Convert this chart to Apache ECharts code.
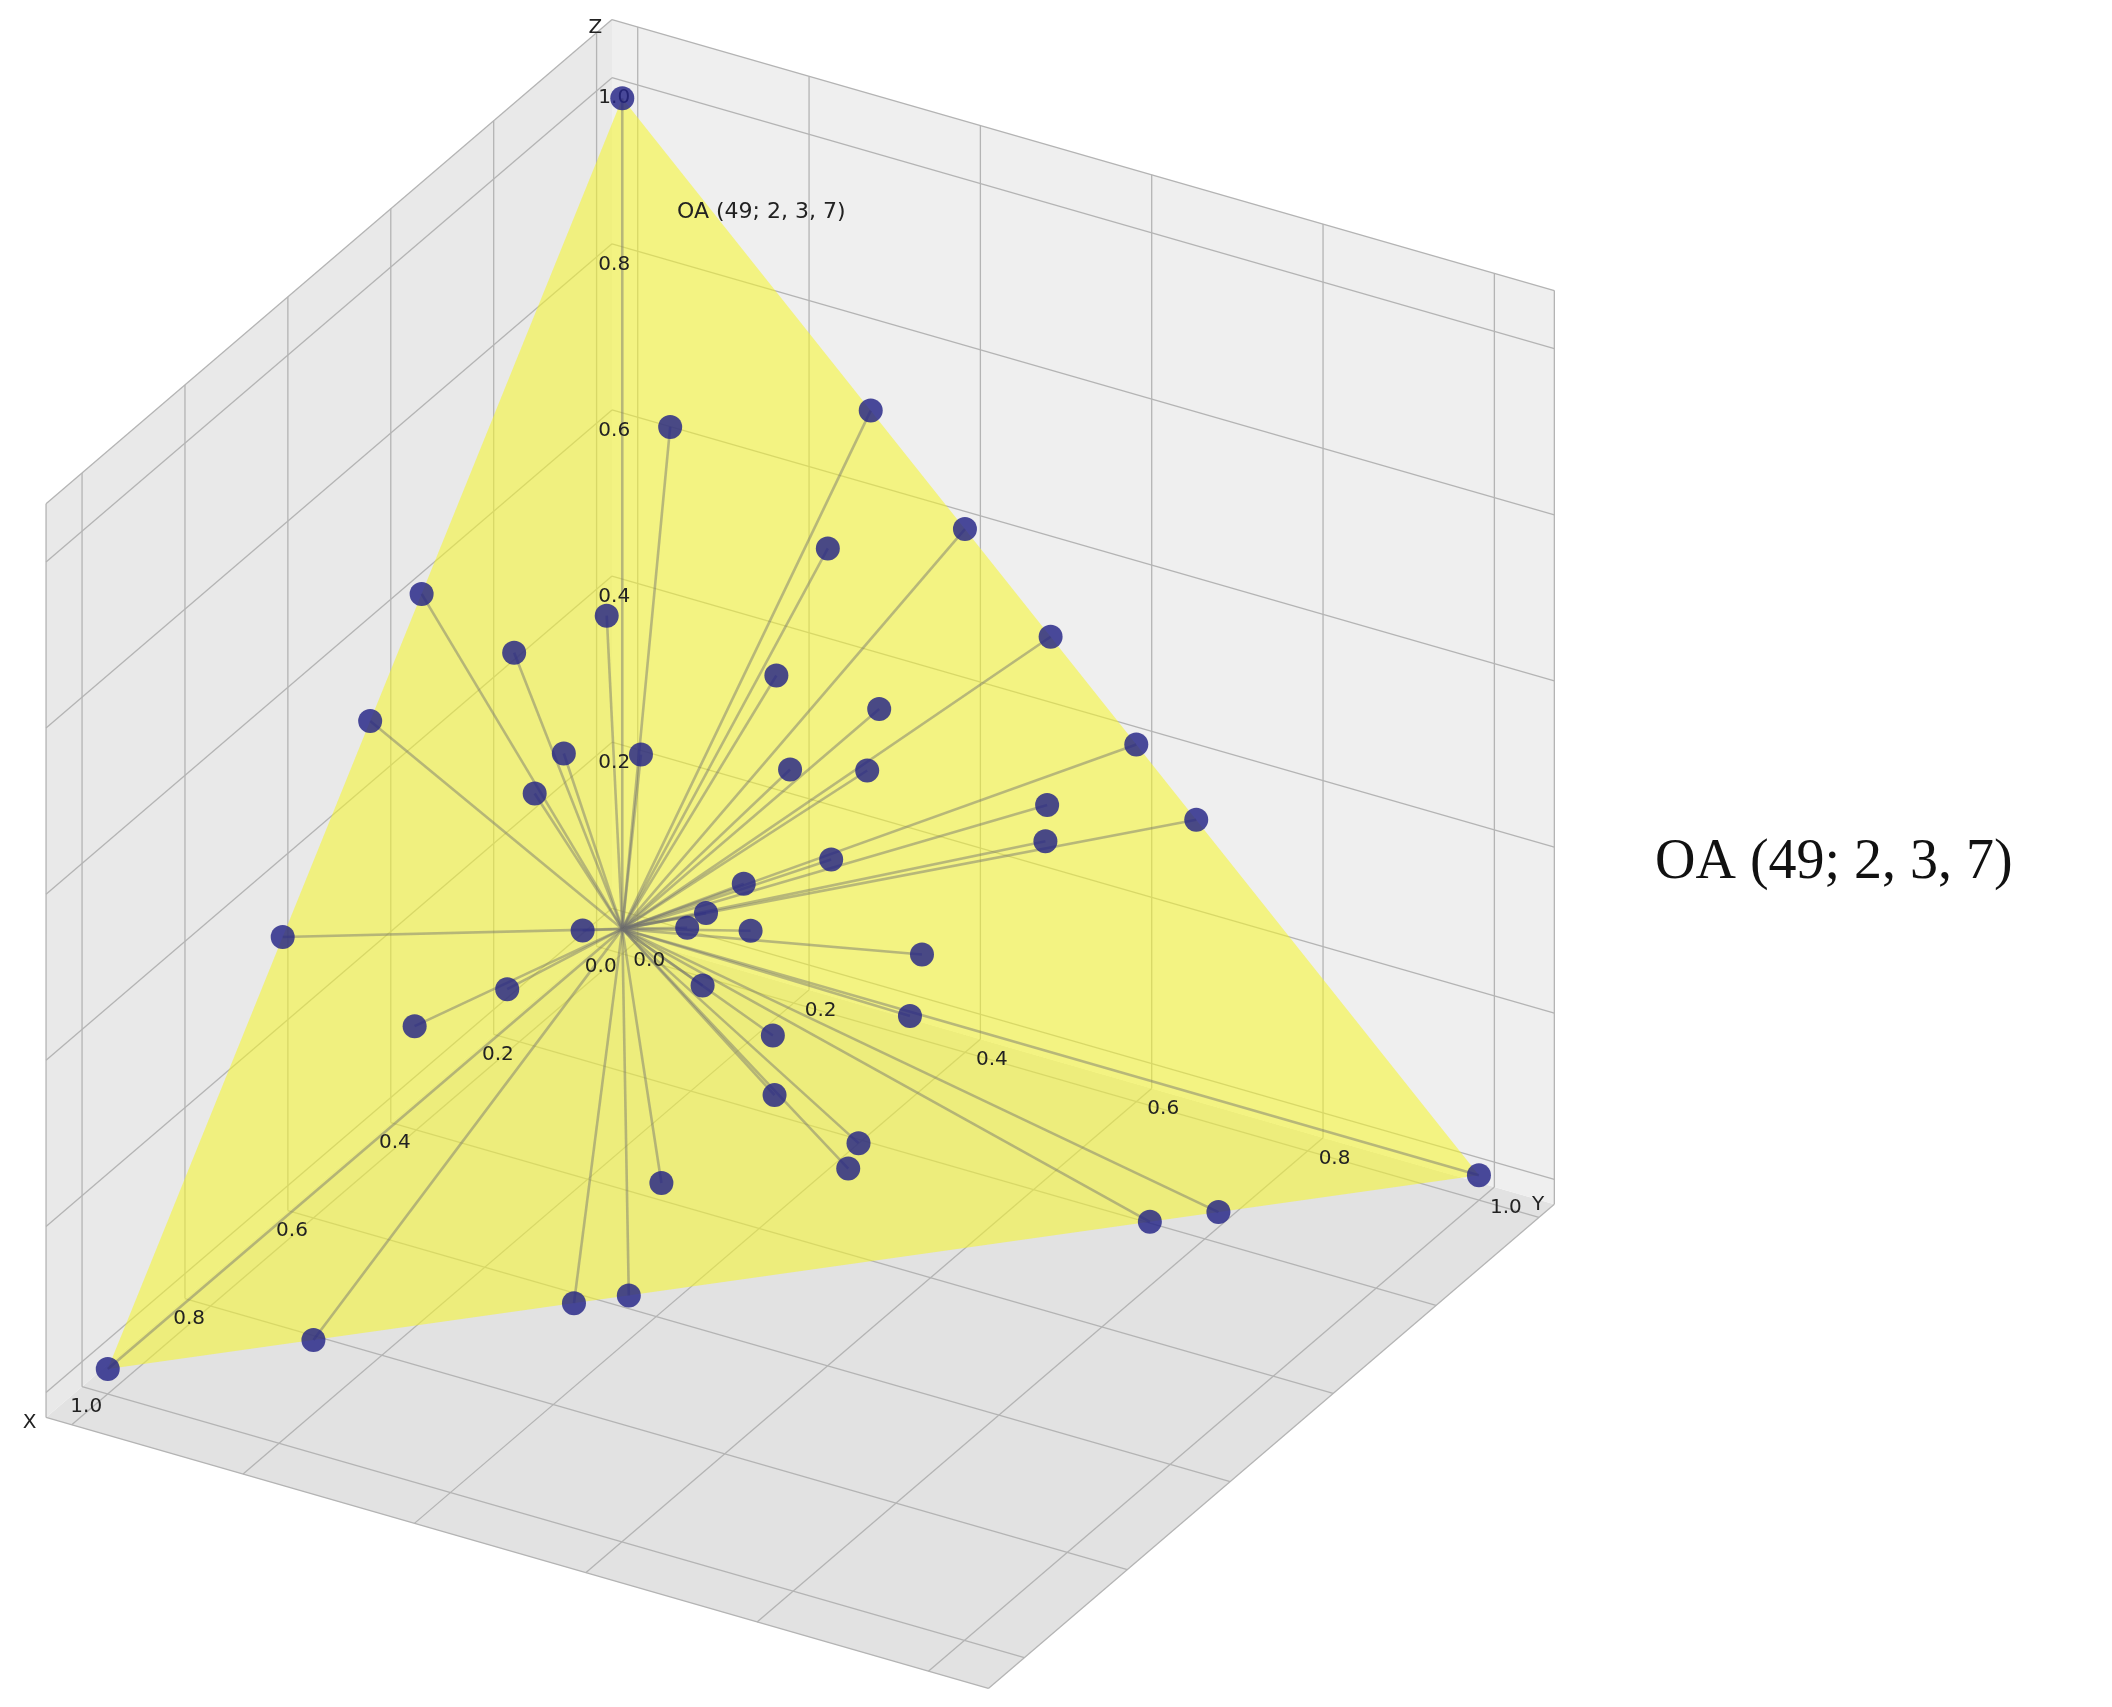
<!DOCTYPE html>
<html>
<head>
<meta charset="utf-8">
<script src="https://cdn.jsdelivr.net/npm/echarts@6/dist/echarts.min.js"></script>
<style>html,body{margin:0;padding:0;background:#fff}#main{width:2112px;height:1707px}</style>
</head>
<body>
<div id="main"></div>
<script>
// design points of OA(49; 2, 3, 7) on the simplex x + y + z = 1
var ptX = [0,1,0,0,0.14,0,0.10,0,0.39,0.28,0.36,0.20,0.15,0.49,0.38,0.33,0,0.24,0.19,0.42,0.09,0,0.11,0.26,0.33,0.66,0.46,0.37,0.39,0.35,0.25,0.54,0.41,0.62,0.29,0.39,0.42,0.39,0.41,0.54,0.24,0.19,0.85,0.66,0.62];
var ptY = [0,0,1,0.29,0.14,0.40,0.30,0.50,0,0.15,0.09,0.30,0.39,0,0.16,0.22,0.60,0.34,0.40,0.15,0.55,0.67,0.56,0.40,0.34,0,0.23,0.32,0.31,0.36,0.50,0.19,0.34,0.13,0.51,0.41,0.43,0.51,0.51,0.37,0.76,0.81,0.15,0.34,0.38];
var ptZ = ptX.map(function (x, i) { return Math.max(0, +(1 - x - ptY[i]).toFixed(2)); });
var ticks = [0, 0.2, 0.4, 0.6, 0.8, 1.0];
var tickLabels = ['0.0', '0.2', '0.4', '0.6', '0.8', '1.0'];
var lo = -0.03, hi = 1.07;

// simple fixed oblique projection (view roughly elev 30, azim 30)
function P(x, y, z) { return [462 - 382 * x + 636 * y, 690 + 327 * x + 183 * y - 617 * z]; }

var panes = [
    {pts: [[lo,lo,lo],[hi,lo,lo],[hi,hi,lo],[lo,hi,lo]], color: '#e2e2e2'},
    {pts: [[lo,lo,lo],[hi,lo,lo],[hi,lo,hi],[lo,lo,hi]], color: '#e9e9e9'},
    {pts: [[lo,lo,lo],[lo,hi,lo],[lo,hi,hi],[lo,lo,hi]], color: '#efefef'}
];
var segs = [];
ticks.forEach(function (t) {
    segs.push([t,lo,lo, t,lo,hi], [lo,lo,t, hi,lo,t]);
    segs.push([lo,t,lo, lo,t,hi], [lo,lo,t, lo,hi,t]);
    segs.push([t,lo,lo, t,hi,lo], [lo,t,lo, hi,t,lo]);
});
segs.push([hi,lo,lo, hi,lo,hi], [lo,hi,lo, lo,hi,hi], [hi,lo,lo, hi,hi,lo], [lo,hi,lo, hi,hi,lo],
          [hi,lo,hi, lo,lo,hi], [lo,hi,hi, lo,lo,hi]);

var labels = [];
ticks.forEach(function (t, i) {
    labels.push({value: [t, 0, 0], text: tickLabels[i], dx: -16, dy: 28});
    labels.push({value: [0, t, 0], text: tickLabels[i], dx: 20, dy: 24});
    if (i > 0) labels.push({value: [0, 0, t], text: tickLabels[i], dx: -6, dy: 0});
});
labels.push({value: [1, 0, 0], text: 'X', dx: -58, dy: 40});
labels.push({value: [0, 1, 0], text: 'Y', dx: 44, dy: 22});
labels.push({value: [0, 0, 1], text: 'Z', dx: -20, dy: -52});

var S = 1.347;
var chart = echarts.init(document.getElementById('main'));
function c(api, x, y, z) { return api.coord(P(x, y, z)); }

var option = {
    animation: false,
    grid: {left: 0, right: 0, top: 0, bottom: 0},
    xAxis: {type: 'value', min: 0, max: 1568, show: false},
    yAxis: {type: 'value', min: 0, max: 1268, inverse: true, show: false},
    title: [
        {text: 'OA (49; 2, 3, 7)', left: 1650, top: 830, textStyle: {fontFamily: 'Liberation Serif', fontSize: 56, fontWeight: 'normal', color: '#111'}},
        {text: 'OA (49; 2, 3, 7)', left: 672, top: 196, textStyle: {fontFamily: 'DejaVu Sans', fontSize: 22, fontWeight: 'normal', color: '#222'}}
    ],
    series: [
        {
            type: 'custom', silent: true, clip: false, data: panes.map(function (p, i) { return [i]; }),
            renderItem: function (params, api) {
                var p = panes[params.dataIndex];
                return {type: 'polygon', shape: {points: p.pts.map(function (q) { return c(api, q[0], q[1], q[2]); })},
                        style: {fill: p.color}};
            }
        },
        {
            type: 'custom', silent: true, clip: false, data: segs,
            renderItem: function (params, api) {
                var a = c(api, api.value(0), api.value(1), api.value(2));
                var b = c(api, api.value(3), api.value(4), api.value(5));
                return {type: 'line', shape: {x1: a[0], y1: a[1], x2: b[0], y2: b[1]},
                        style: {stroke: '#b4b4b4', lineWidth: 1.3}};
            }
        },
        {
            type: 'custom', silent: true, clip: false, data: [[0]],
            renderItem: function (params, api) {
                return {type: 'polygon', shape: {points: [c(api,1,0,0), c(api,0,1,0), c(api,0,0,1)]},
                        style: {fill: 'rgba(245,245,40,0.55)'}};
            }
        },
        {
            type: 'custom', silent: true, clip: false,
            data: ptX.map(function (x, i) { return [x, ptY[i], ptZ[i]]; }),
            renderItem: function (params, api) {
                var a = c(api, 0, 0, 0);
                var b = c(api, api.value(0), api.value(1), api.value(2));
                return {type: 'line', shape: {x1: a[0], y1: a[1], x2: b[0], y2: b[1]},
                        style: {stroke: 'rgba(110,110,110,0.45)', lineWidth: 2.6}};
            }
        },
        {
            type: 'custom', silent: true, clip: false, data: labels.map(function (l) { return l.value; }),
            renderItem: function (params, api) {
                var l = labels[params.dataIndex];
                var a = c(api, l.value[0], l.value[1], l.value[2]);
                return {type: 'text', style: {x: a[0] + l.dx * S, y: a[1] + l.dy * S, text: l.text,
                        fill: '#222', font: '20px "DejaVu Sans"', align: 'center', verticalAlign: 'middle'}};
            }
        },
        {
            type: 'scatter', symbolSize: 24,
            data: ptX.map(function (x, i) { return P(x, ptY[i], ptZ[i]); }),
            itemStyle: {color: '#232386', opacity: 0.82}
        }
    ]
};
chart.setOption(option);
</script>
</body>
</html>
